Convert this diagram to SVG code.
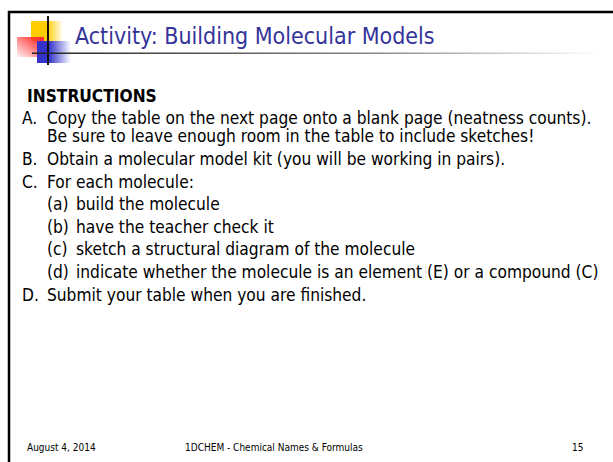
<svg xmlns="http://www.w3.org/2000/svg" width="613" height="462" viewBox="0 0 613 462">
<defs>
<linearGradient id="gy" x1="0" y1="0" x2="1" y2="0"><stop offset="0.5" stop-color="#FFCC00"/><stop offset="1" stop-color="#FFCC00" stop-opacity="0"/></linearGradient>
<linearGradient id="gr" x1="1" y1="0" x2="0" y2="1"><stop offset="0.15" stop-color="#FF3333"/><stop offset="1" stop-color="#FF3333" stop-opacity="0.05"/></linearGradient>
<linearGradient id="gb" x1="0" y1="0" x2="1" y2="0"><stop offset="0.35" stop-color="#3333CC"/><stop offset="1" stop-color="#3333CC" stop-opacity="0"/></linearGradient>
<linearGradient id="gl" x1="0" y1="0" x2="1" y2="0"><stop offset="0" stop-color="#222"/><stop offset="0.6" stop-color="#888"/><stop offset="1" stop-color="#fff"/></linearGradient>
</defs>
<style>
.t{font-family:"DejaVu Sans Condensed","DejaVu Sans",sans-serif;font-size:17.2px;fill:#000}
.h{font-family:"DejaVu Sans Condensed","DejaVu Sans",sans-serif;font-size:23px;fill:#333399}
.f{font-family:"DejaVu Sans Condensed","DejaVu Sans",sans-serif;font-size:10px;fill:#000}
</style>
<rect width="613" height="462" fill="#fff"/>
<g id="frame">
<line x1="8" y1="12" x2="613" y2="12" stroke="#000" stroke-width="2.5"/>
<line x1="9" y1="11" x2="9" y2="462" stroke="#000" stroke-width="2.5"/>
</g>
<g id="logo">
<rect x="31" y="21" width="32" height="20" fill="url(#gy)"/>
<rect x="17" y="37" width="27" height="20" fill="url(#gr)"/>
<rect x="37" y="41" width="34" height="22" fill="url(#gb)"/>
<line x1="48" y1="16" x2="48" y2="65" stroke="#111" stroke-width="2"/>
<rect x="32" y="52.5" width="570" height="1.5" fill="url(#gl)"/>
</g>
<g id="title"><text class="h" x="75" y="44">Activity: Building Molecular Models</text></g>
<g id="body">
<text class="t" x="27" y="102" font-weight="bold">INSTRUCTIONS</text>
<text class="t" x="22" y="124">A.</text><text class="t" x="47" y="124">Copy the table on the next page onto a blank page (neatness counts).</text>
<text class="t" x="47" y="142">Be sure to leave enough room in the table to include sketches!</text>
<text class="t" x="22" y="165">B.</text><text class="t" x="47" y="165">Obtain a molecular model kit (you will be working in pairs).</text>
<text class="t" x="22" y="188">C.</text><text class="t" x="47" y="188">For each molecule:</text>
<text class="t" x="47" y="210">(a)</text><text class="t" x="76" y="210">build the molecule</text>
<text class="t" x="47" y="233">(b)</text><text class="t" x="76" y="233">have the teacher check it</text>
<text class="t" x="47" y="255">(c)</text><text class="t" x="76" y="255">sketch a structural diagram of the molecule</text>
<text class="t" x="47" y="278">(d)</text><text class="t" x="76" y="278">indicate whether the molecule is an element (E) or a compound (C)</text>
<text class="t" x="22" y="301">D.</text><text class="t" x="47" y="301">Submit your table when you are finished.</text>
</g>
<g id="footer">
<text class="f" x="27" y="451">August 4, 2014</text>
<text class="f" x="185" y="451">1DCHEM - Chemical Names &amp; Formulas</text>
<text class="f" x="572" y="451">15</text>
</g>
</svg>
